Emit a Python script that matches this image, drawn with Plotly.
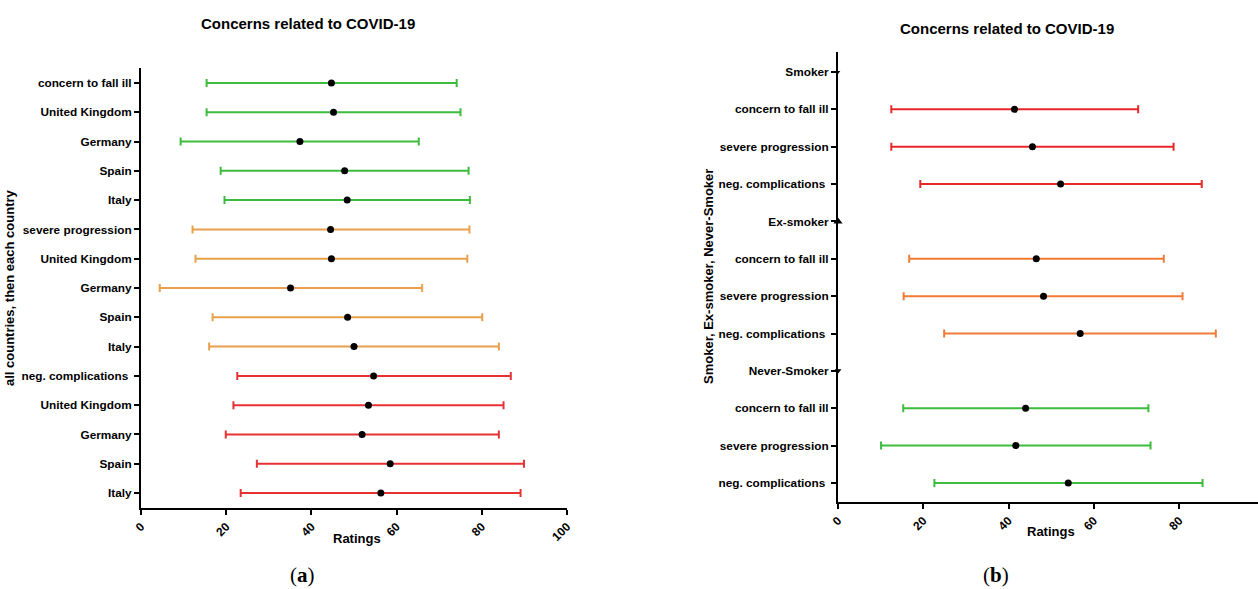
import plotly.graph_objects as go

W, H = 1258, 589

# ---------------- Panel (a) data ----------------
a_labels = ["concern to fall ill", "United Kingdom", "Germany", "Spain", "Italy",
            "severe progression", "United Kingdom", "Germany", "Spain", "Italy",
            "neg. complications ", "United Kingdom", "Germany", "Spain", "Italy"]
a_mean = [44.7, 45.2, 37.3, 47.8, 48.4,
          44.5, 44.7, 35.1, 48.5, 50.0,
          54.6, 53.4, 51.9, 58.5, 56.3]
a_low = [15.4, 15.4, 9.3, 18.7, 19.6,
         12.1, 12.8, 4.4, 16.8, 16.0,
         22.6, 21.7, 19.9, 27.2, 23.4]
a_high = [74.1, 75.0, 65.2, 76.9, 77.2,
          77.1, 76.6, 66.0, 80.1, 84.0,
          86.8, 85.1, 84.0, 89.9, 89.1]
a_group = ["fall", "fall", "fall", "fall", "fall",
           "severe", "severe", "severe", "severe", "severe",
           "neg", "neg", "neg", "neg", "neg"]

# ---------------- Panel (b) data ----------------
b_labels = ["Smoker", "concern to fall ill", "severe progression", "neg. complications ",
            "Ex-smoker", "concern to fall ill", "severe progression", "neg. complications ",
            "Never-Smoker", "concern to fall ill", "severe progression", "neg. complications "]
b_mean = [None, 41.4, 45.6, 52.2, None, 46.5, 48.2, 56.8, None, 44.0, 41.7, 54.0]
b_low = [None, 12.5, 12.5, 19.3, None, 16.7, 15.4, 24.9, None, 15.3, 10.1, 22.6]
b_high = [None, 70.4, 78.7, 85.3, None, 76.4, 80.8, 88.6, None, 72.8, 73.3, 85.5]
b_group = ["head", "smoker", "smoker", "smoker", "head", "ex", "ex", "ex",
           "head", "never", "never", "never"]
b_head_symbols = {0: "triangle-down", 4: "triangle-up", 8: "triangle-down"}
b_head_sizes = {0: 4, 4: 8, 8: 6}

a_colors = {"fall": "#3dbb3d", "severe": "#e8a04c", "neg": "#e63232"}
b_colors = {"smoker": "#e62828", "ex": "#f07a36", "never": "#3dbb3d"}

x_ticks = [0, 20, 40, 60, 80, 100]

fig = go.Figure()

# panel a traces
for i in range(len(a_labels)):
    c = a_colors[a_group[i]]
    fig.add_trace(go.Scatter(
        x=[a_mean[i]], y=[i], mode="markers",
        marker=dict(color="black", size=7),
        error_x=dict(type="data", symmetric=False,
                     array=[a_high[i] - a_mean[i]],
                     arrayminus=[a_mean[i] - a_low[i]],
                     color=c, thickness=2, width=4),
        xaxis="x", yaxis="y", showlegend=False, hoverinfo="skip"))

# panel b traces
for i in range(len(b_labels)):
    if b_group[i] == "head":
        fig.add_trace(go.Scatter(
            x=[0], y=[i], mode="markers",
            marker=dict(color="black", size=b_head_sizes[i], symbol=b_head_symbols[i]),
            cliponaxis=False, xaxis="x2", yaxis="y2", showlegend=False, hoverinfo="skip"))
        continue
    c = b_colors[b_group[i]]
    fig.add_trace(go.Scatter(
        x=[b_mean[i]], y=[i], mode="markers",
        marker=dict(color="black", size=7),
        error_x=dict(type="data", symmetric=False,
                     array=[b_high[i] - b_mean[i]],
                     arrayminus=[b_mean[i] - b_low[i]],
                     color=c, thickness=2, width=4),
        xaxis="x2", yaxis="y2", showlegend=False, hoverinfo="skip"))

def px_x(p):
    return p / W

def px_y(p):
    return 1 - p / H

tickfont = dict(family="Liberation Sans, Arial", size=11.8, color="black")
xtickfont = dict(family="Liberation Sans, Arial", size=12, color="black")
axis_common = dict(showgrid=False, zeroline=False, showline=True, linecolor="black",
                   linewidth=2, ticks="outside", tickcolor="black", tickwidth=1.5,
                   ticklen=5, automargin=False)

fig.update_layout(
    width=W, height=H, margin=dict(l=0, r=0, t=0, b=0, pad=0),
    paper_bgcolor="white", plot_bgcolor="white",
    font=dict(family="Liberation Sans, Arial", color="black"),
    xaxis=dict(domain=[px_x(141), px_x(567)], range=[0, 100], anchor="y",
               tickvals=x_ticks, ticktext=[f"<b>{v}</b>" for v in x_ticks],
               tickangle=-45, tickfont=xtickfont, **axis_common),
    yaxis=dict(domain=[px_y(508), px_y(68)], range=[14.51, -0.51], anchor="x",
               tickvals=list(range(len(a_labels))),
               ticktext=[f"<b>{t}</b>" for t in a_labels],
               tickfont=tickfont, **axis_common),
    xaxis2=dict(domain=[px_x(838), 1.0], range=[0, 98.5], anchor="y2",
                tickvals=x_ticks, ticktext=[f"<b>{v}</b>" for v in x_ticks],
                tickangle=-45, tickfont=xtickfont, **axis_common),
    yaxis2=dict(domain=[px_y(502), px_y(52)], range=[11.51, -0.535], anchor="x2",
                tickvals=list(range(len(b_labels))),
                ticktext=[f"<b>{t}</b>" for t in b_labels],
                tickfont=tickfont, **axis_common),
)

ann = []
def add_text(text, x, y, size=13, angle=0, family="Liberation Sans, Arial"):
    ann.append(dict(text=text, x=px_x(x), y=px_y(y), xref="paper", yref="paper",
                    showarrow=False, textangle=angle, xanchor="center", yanchor="middle",
                    font=dict(family=family, size=size, color="black")))

add_text("<b>Concerns related to COVID-19</b>", 308, 23, 15)
add_text("<b>Concerns related to COVID-19</b>", 1007, 28, 15)
add_text("<b>Ratings</b>", 357, 538, 13)
add_text("<b>Ratings</b>", 1051, 531, 13)
add_text("<b>all countries, then each country</b>", 10, 288, 13, -90)
add_text("<b>Smoker, Ex-smoker, Never-Smoker</b>", 708, 277, 13, -90)
add_text("(<b>a</b>)", 302, 575, 21, 0, "Liberation Serif, Times New Roman")
add_text("(<b>b</b>)", 996, 575, 21, 0, "Liberation Serif, Times New Roman")
fig.update_layout(annotations=ann)

fig.write_html("out.html", config={"displayModeBar": False},
               post_script="document.body.style.margin='0px';document.body.style.overflow='hidden';")
